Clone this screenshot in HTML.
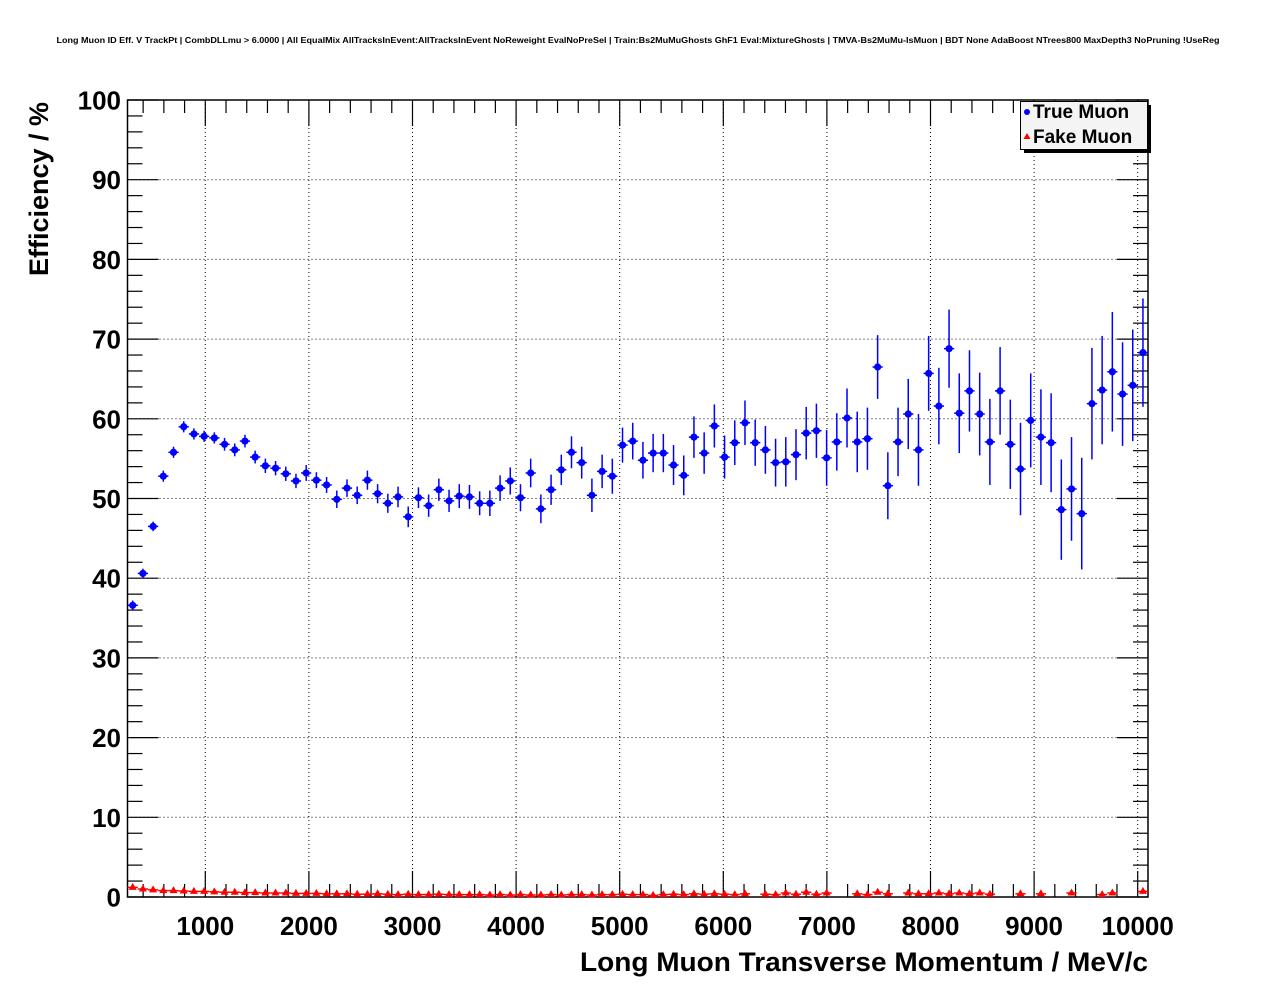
<!DOCTYPE html>
<html><head><meta charset="utf-8">
<style>
html,body{margin:0;padding:0;background:#fff;}
svg{display:block;font-family:"Liberation Sans",Arial,sans-serif;}
</style></head>
<body>
<svg id="chart" width="1276" height="996" viewBox="0 0 1276 996" xmlns="http://www.w3.org/2000/svg">
<rect x="0" y="0" width="1276" height="996" fill="#fff"/>
<text x="638" y="43" text-anchor="middle" font-size="8.6" font-weight="bold" textLength="1163" lengthAdjust="spacingAndGlyphs">Long Muon ID Eff. V TrackPt | CombDLLmu &gt; 6.0000 | All EqualMix AllTracksInEvent:AllTracksInEvent NoReweight EvalNoPreSel | Train:Bs2MuMuGhosts GhF1 Eval:MixtureGhosts | TMVA-Bs2MuMu-IsMuon | BDT None AdaBoost NTrees800 MaxDepth3 NoPruning !UseReg</text>
<g id="grid"></g>
<g id="axes"></g>
<g id="fake"></g>
<g id="true"></g>
<text x="48" y="189" transform="rotate(-90 48 189)" text-anchor="middle" font-size="27" font-weight="bold">Efficiency / %</text>
<text x="1148" y="971" text-anchor="end" font-size="27" font-weight="bold" textLength="568" lengthAdjust="spacingAndGlyphs">Long Muon Transverse Momentum / MeV/c</text>
<g>
  <rect x="1024" y="105" width="127" height="48" fill="#000"/>
  <rect x="1020.5" y="101.5" width="127" height="48" fill="#f4f4f4" stroke="#000" stroke-width="1"/>
  <circle cx="1027" cy="112" r="3" fill="#0000ff"/>
  <text x="1033" y="118" font-size="19" font-weight="bold">True Muon</text>
  <polygon points="1027,133 1023.5,139 1030.5,139" fill="#ff0000"/>
  <text x="1033" y="143" font-size="19" font-weight="bold">Fake Muon</text>
</g>
</svg>
<script>
const binLow = 250;
const binWidth = 98.5;
const xTicks = [1000,2000,3000,4000,5000,6000,7000,8000,9000,10000];
const yTicks = [0,10,20,30,40,50,60,70,80,90,100];
const trueEff = [36.6,40.6,46.5,52.8,55.8,59.0,58.1,57.8,57.6,56.8,56.1,57.2,55.2,54.1,53.8,53.1,52.2,53.2,52.3,51.7,49.9,
51.3,50.4,52.3,50.6,49.4,50.2,47.7,50.1,49.1,51.1,49.7,50.3,50.2,49.4,49.4,51.3,52.2,50.1,53.2,48.7,51.1,53.6,55.8,54.5,50.4,53.4,
52.8,56.7,57.2,54.8,55.7,55.7,54.2,52.9,57.7,55.7,59.1,55.2,57.0,59.5,57.0,56.1,54.5,54.6,55.5,58.2,58.5,55.1,57.1,60.1,57.1,57.5,
66.5,51.6,57.1,60.6,56.1,65.7,61.6,68.8,
60.7,63.5,60.6,57.1,63.5,56.8,53.7,59.8,57.7,57.0,48.6,51.2,48.1,61.9,63.6,65.9,63.1,64.2,68.3];
const trueErr = [0.6,0.6,0.6,0.7,0.7,0.7,0.7,0.7,0.7,0.8,0.8,0.8,0.8,0.9,0.9,0.9,0.9,1.0,1.0,1.0,1.1,
1.1,1.1,1.2,1.2,1.2,1.3,1.3,1.3,1.4,1.4,1.4,1.5,1.5,1.5,1.6,1.6,1.7,1.7,1.8,1.8,1.9,1.9,2.0,2.0,2.1,2.1,
2.2,2.2,2.3,2.3,2.4,2.4,2.5,2.5,2.6,2.6,2.7,2.7,2.8,2.8,2.9,3.0,3.0,3.1,3.2,3.3,3.4,3.5,3.6,3.7,3.8,3.9,
4.0,4.2,4.3,4.4,4.5,4.7,4.8,4.9,
5.0,5.1,5.2,5.4,5.5,5.6,5.8,5.9,6.0,6.2,6.3,6.5,7.0,7.0,6.8,7.5,6.5,7.0,6.8];
const fakeEff = [1.2,1.0,0.9,0.8,0.8,0.75,0.7,0.7,0.65,0.6,0.6,0.55,0.55,0.5,0.5,0.5,0.45,0.45,0.45,0.4,0.4,
0.4,0.35,0.35,0.4,0.35,0.3,0.35,0.3,0.3,0.35,0.3,0.3,0.3,0.3,0.25,0.3,0.25,0.3,0.25,0.25,0.3,0.25,0.3,0.3,0.25,0.3,
0.3,0.35,0.3,0.3,0.2,0.3,0.35,0.3,0.4,0.35,0.4,0.35,0.3,0.4,null,0.35,0.3,0.5,0.35,0.6,0.35,0.5,null,null,0.4,0.3,0.6,0.4,null,0.5,
0.4,0.4,0.5,0.4,0.5,0.4,0.5,0.35,null,null,0.4,null,0.4,null,null,0.5,null,null,0.3,0.5,null,null,0.7];

const NS = "http://www.w3.org/2000/svg";
const X0 = 127.5, X1 = 1148, Y0 = 897, Y1 = 100;
function xPx(p){ return 101.7 + p*0.1036; }
function yPx(v){ return 897 - v*7.97; }
function mk(parent, tag, attrs){
  const el = document.createElementNS(NS, tag);
  for (const k in attrs) el.setAttribute(k, attrs[k]);
  parent.appendChild(el);
  return el;
}
const grid = document.getElementById('grid');
const axes = document.getElementById('axes');
xTicks.forEach(t => {
  const l = mk(grid,'line',{x1:xPx(t),x2:xPx(t),y1:Y1,y2:Y0,stroke:'#000','stroke-width':1,'stroke-dasharray':'1,3'});
  
  
});
yTicks.forEach(t => {
  if (t===0||t===100) return;
  const l = mk(grid,'line',{x1:X0,x2:X1,y1:yPx(t),y2:yPx(t),stroke:'#000','stroke-width':1,'stroke-dasharray':'1,3'});
  
  
});
const fr = mk(axes,'rect',{x:X0,y:Y1,width:X1-X0,height:Y0-Y1,fill:'none',stroke:'#000','stroke-width':1.5});


for (let v=0; v<=100; v+=2){
  const major = v%10===0;
  const len = major?31:15;
  const y = yPx(v);
  const a = mk(axes,'line',{x1:X0,x2:X0+len,y1:y,y2:y,stroke:'#000','stroke-width':1.2});
  
  
  const b = mk(axes,'line',{x1:X1,x2:X1-len,y1:y,y2:y,stroke:'#000','stroke-width':1.2});
  
  
}
yTicks.forEach(t => {
  const tx = mk(axes,'text',{x:121,y:yPx(t)+9.5,'text-anchor':'end','font-size':26,'font-weight':'bold'});
  tx.textContent = t;
  
  
});
for (let p=400; p<=10000; p+=200){
  const major = p%1000===0;
  const len = major?26:13;
  const x = xPx(p);
  const a = mk(axes,'line',{x1:x,x2:x,y1:Y0,y2:Y0-len,stroke:'#000','stroke-width':1.2});
  
  
  const b = mk(axes,'line',{x1:x,x2:x,y1:Y1,y2:Y1+len,stroke:'#000','stroke-width':1.2});
  
  
}
xTicks.forEach(t => {
  const tx = mk(axes,'text',{x:xPx(t),y:935,'text-anchor':'middle','font-size':26,'font-weight':'bold'});
  tx.textContent = t;
  
  
});
const gF = document.getElementById('fake');
fakeEff.forEach((v,i) => {
  if (v===null) return;
  const p = binLow + binWidth*(i+0.5);
  const x = xPx(p), y = yPx(v);
  const hl = mk(gF,'line',{x1:xPx(p-binWidth/2),x2:xPx(p+binWidth/2),y1:y,y2:y,stroke:'#ff0000','stroke-width':1.5});
  
  
  const tri = mk(gF,'polygon',{points:`${x},${y-4.5} ${x-4},${y+2.5} ${x+4},${y+2.5}`,fill:'#ff0000'});
  
  
});
const gT = document.getElementById('true');
trueEff.forEach((v,i) => {
  const p = binLow + binWidth*(i+0.5);
  const x = xPx(p), y = yPx(v);
  const e = trueErr[i];
  const vl = mk(gT,'line',{x1:x,x2:x,y1:yPx(v+e),y2:yPx(v-e),stroke:'#0000ff','stroke-width':1.5});
  
  
  const hl = mk(gT,'line',{x1:xPx(p-binWidth/2),x2:xPx(p+binWidth/2),y1:y,y2:y,stroke:'#0000ff','stroke-width':1.5});
  
  
  const c = mk(gT,'circle',{cx:x,cy:y,r:3.6,fill:'#0000ff'});
  
  
});
</script>
</body></html>
